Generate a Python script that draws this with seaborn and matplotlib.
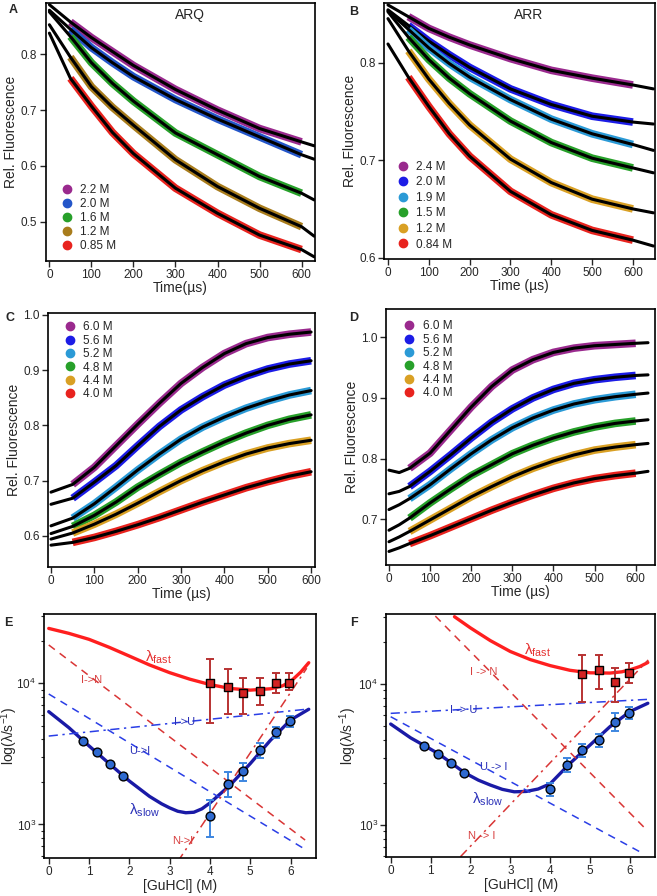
import numpy as np
import matplotlib
matplotlib.use('Agg')
import matplotlib.pyplot as plt
import seaborn as sns
from matplotlib.lines import Line2D
from matplotlib.ticker import LogLocator, NullFormatter, LogFormatterSciNotation

sns.set_style('ticks')
plt.rcParams['font.family'] = ['Liberation Sans', 'DejaVu Sans']
plt.rcParams['mathtext.default'] = 'regular'

# ---------------- panel A: ARQ refolding traces ----------------
t_arq = [0, 50, 100, 150, 200, 300, 400, 500, 600, 630]
arq_labels = ['2.2 M', '2.0 M', '1.6 M', '1.2 M', '0.85 M']
arq_22 = [0.889, 0.858, 0.830, 0.805, 0.780, 0.737, 0.700, 0.667, 0.643, 0.636]
arq_20 = [0.879, 0.845, 0.812, 0.785, 0.760, 0.719, 0.684, 0.652, 0.620, 0.612]
arq_16 = [0.876, 0.832, 0.785, 0.748, 0.716, 0.659, 0.620, 0.581, 0.551, 0.539]
arq_12 = [0.853, 0.795, 0.742, 0.705, 0.673, 0.611, 0.563, 0.524, 0.491, 0.474]
arq_085 = [0.838, 0.757, 0.707, 0.660, 0.622, 0.560, 0.515, 0.476, 0.450, 0.437]

# ---------------- panel B: ARR refolding traces ----------------
t_arr = [0, 50, 100, 150, 200, 300, 400, 500, 600, 650]
arr_labels = ['2.4 M', '2.0 M', '1.9 M', '1.5 M', '1.2 M', '0.84 M']
arr_24 = [0.859, 0.847, 0.835, 0.826, 0.818, 0.804, 0.792, 0.784, 0.777, 0.773]
arr_20 = [0.854, 0.838, 0.822, 0.808, 0.795, 0.773, 0.757, 0.745, 0.739, 0.737]
arr_19 = [0.853, 0.834, 0.815, 0.799, 0.785, 0.762, 0.742, 0.727, 0.716, 0.710]
arr_15 = [0.852, 0.826, 0.803, 0.784, 0.768, 0.740, 0.718, 0.702, 0.692, 0.687]
arr_12 = [0.845, 0.812, 0.783, 0.758, 0.736, 0.701, 0.677, 0.660, 0.650, 0.646]
arr_084 = [0.819, 0.785, 0.755, 0.727, 0.704, 0.668, 0.644, 0.628, 0.618, 0.612]

# ---------------- panel C: ARQ unfolding traces ----------------
t_c = [0, 50, 100, 150, 200, 250, 300, 350, 400, 450, 500, 550, 600]
unf_labels = ['6.0 M', '5.6 M', '5.2 M', '4.8 M', '4.4 M', '4.0 M']
c_60 = [0.679, 0.693, 0.724, 0.763, 0.802, 0.840, 0.876, 0.905, 0.930, 0.948, 0.959, 0.965, 0.969]
c_56 = [0.657, 0.668, 0.697, 0.727, 0.763, 0.798, 0.828, 0.852, 0.873, 0.889, 0.902, 0.911, 0.917]
c_52 = [0.618, 0.632, 0.658, 0.688, 0.719, 0.748, 0.775, 0.797, 0.815, 0.831, 0.844, 0.855, 0.863]
c_48 = [0.604, 0.617, 0.637, 0.661, 0.688, 0.711, 0.733, 0.752, 0.770, 0.786, 0.800, 0.811, 0.819]
c_44 = [0.594, 0.605, 0.621, 0.639, 0.659, 0.680, 0.700, 0.718, 0.734, 0.748, 0.759, 0.767, 0.773]
c_40 = [0.583, 0.588, 0.597, 0.608, 0.620, 0.633, 0.647, 0.661, 0.674, 0.687, 0.698, 0.708, 0.716]

# ---------------- panel D: ARR unfolding traces ----------------
t_d = [0, 25, 50, 100, 150, 200, 250, 300, 350, 400, 450, 500, 550, 600, 630]
d_60 = [0.781, 0.777, 0.784, 0.809, 0.847, 0.885, 0.919, 0.946, 0.963, 0.975, 0.982, 0.986, 0.988, 0.990, 0.991]
d_56 = [0.742, 0.746, 0.754, 0.779, 0.806, 0.834, 0.860, 0.882, 0.900, 0.914, 0.924, 0.930, 0.934, 0.937, 0.938]
d_52 = [0.716, 0.724, 0.734, 0.757, 0.783, 0.808, 0.831, 0.851, 0.867, 0.880, 0.890, 0.897, 0.902, 0.906, 0.908]
d_48 = [0.682, 0.691, 0.702, 0.727, 0.750, 0.772, 0.790, 0.808, 0.822, 0.834, 0.844, 0.852, 0.858, 0.862, 0.864]
d_44 = [0.663, 0.671, 0.680, 0.699, 0.718, 0.737, 0.754, 0.770, 0.784, 0.796, 0.806, 0.814, 0.819, 0.823, 0.825]
d_40 = [0.647, 0.653, 0.660, 0.673, 0.687, 0.701, 0.715, 0.728, 0.740, 0.751, 0.760, 0.767, 0.772, 0.776, 0.779]

# ---------------- panel E: ARQ chevron ----------------
e_fast_x = [4.0, 4.45, 4.83, 5.23, 5.63, 5.97]
e_fast_y = [10000, 9370, 8500, 8870, 10100, 10100]
e_fast_lo = [5200, 6050, 6050, 7050, 8490, 8950]
e_fast_hi = [14800, 12600, 10850, 10850, 11770, 11770]
e_slow_x = [0.85, 1.19, 1.51, 1.85, 4.0, 4.45, 4.83, 5.23, 5.63, 5.98]
e_slow_y = [3920, 3240, 2670, 2210, 1150, 1950, 2390, 3370, 4540, 5410]
e_slow_lo = [3920, 3240, 2670, 2210, 817, 1570, 2040, 2940, 4110, 4920]
e_slow_hi = [3920, 3240, 2670, 2210, 1486, 2360, 2735, 3790, 4920, 5860]
e_fastfit_x = [0, 0.5, 1, 1.5, 2, 2.5, 3, 3.5, 4, 4.5, 5, 5.5, 5.8, 6, 6.25, 6.45]
e_fastfit_y = [24500, 22600, 20500, 18000, 15600, 13500, 11900, 10700, 9800, 9200, 8950, 9150, 9600, 10300, 12000, 14000]
e_slowfit_x = [0, 0.5, 1, 1.5, 2, 2.5, 2.8, 3.0, 3.2, 3.4, 3.6, 3.8, 4, 4.5, 5, 5.5, 6, 6.45]
e_slowfit_y = [6300, 4850, 3600, 2700, 2030, 1580, 1400, 1310, 1240, 1210, 1220, 1290, 1420, 1900, 2700, 3950, 5500, 6550]
e_in_x, e_in_y = [0, 6.36], [18700, 775]
e_ui_x, e_ui_y = [0, 6.36], [8400, 666]
e_iu_x, e_iu_y = [0, 6.45], [4230, 6580]
e_ni_x, e_ni_y = [3.2, 6.4], [545, 12800]

# ---------------- panel F: ARR chevron ----------------
f_fast_x = [4.81, 5.22, 5.63, 5.97]
f_fast_y = [11780, 12570, 10280, 11910]
f_fast_lo = [7490, 9220, 7410, 10210]
f_fast_hi = [16060, 16060, 12920, 14160]
f_slow_x = [0.84, 1.19, 1.51, 1.84, 4.0, 4.43, 4.81, 5.22, 5.62, 5.97]
f_slow_y = [3650, 3200, 2770, 2330, 1800, 2680, 3390, 4010, 5370, 6190]
f_slow_lo = [3650, 3200, 2770, 2330, 1616, 2390, 3050, 3590, 4670, 5620]
f_slow_hi = [3650, 3200, 2770, 2330, 1995, 2970, 3730, 4415, 6190, 6900]
f_fastfit_x = [1.6, 2, 2.5, 3, 3.5, 4, 4.5, 5, 5.5, 5.8, 6, 6.25, 6.45]
f_fastfit_y = [30000, 25000, 20300, 17000, 14900, 13500, 12500, 12000, 11950, 12200, 12600, 13300, 14200]
f_slowfit_x = [0, 0.5, 0.85, 1.2, 1.5, 1.85, 2.2, 2.5, 2.8, 3.1, 3.4, 3.7, 4, 4.5, 5, 5.5, 6, 6.45]
f_slowfit_y = [5200, 4150, 3650, 3200, 2780, 2350, 2080, 1920, 1790, 1720, 1730, 1800, 1960, 2740, 3690, 4980, 6370, 7300]
f_in_x, f_in_y = [1.12, 6.42], [30300, 923]
f_ui_x, f_ui_y = [0, 6.32], [5860, 630]
f_iu_x, f_iu_y = [0, 6.45], [6190, 7780]
f_ni_x, f_ni_y = [1.75, 6.46], [596, 14800]

PURPLE = '#9a2a8e'
RED = '#e8231e'
GREEN = '#27a02a'
CYAN = '#2b9ad6'

W, H = 657, 896
fig = plt.figure(figsize=(W / 100, H / 100), dpi=100)


def px_axes(left, top, right, bottom):
    return fig.add_axes([left / W, 1 - bottom / H, (right - left) / W, (bottom - top) / H])


def style(ax):
    for s in ax.spines.values():
        s.set_linewidth(1.2)
        s.set_color('black')
    ax.tick_params(direction='out', length=4, width=1, labelsize=8.5, pad=2)


def traces(ax, t, series, colors):
    t = np.array(t)
    for vals, c in zip(series, colors):
        v = np.array(vals)
        m = (t >= 50) & (t <= 600)
        sns.lineplot(x=t[m], y=v[m], ax=ax, color=c, lw=5.5, sort=False,
                     estimator=None, solid_capstyle='butt')
        sns.lineplot(x=t, y=v, ax=ax, color='black', lw=2.2, sort=False, estimator=None)


def dot_legend(ax, labels, colors, loc, anchor, spacing):
    handles = [Line2D([], [], ls='', marker='o', ms=6, color=c) for c in colors]
    ax.legend(handles, labels, loc=loc, bbox_to_anchor=anchor, frameon=False,
              fontsize=8.5, handlelength=1.0, handletextpad=0.65,
              labelspacing=spacing, borderpad=0, borderaxespad=0)


# ---- A ----
axA = px_axes(45.7, 3, 315, 261)
colA = [PURPLE, '#2456c9', GREEN, '#a87c1c', RED]
traces(axA, t_arq, [arq_22, arq_20, arq_16, arq_12, arq_085], colA)
axA.set_xlim(-8.8, 632)
axA.set_ylim(0.4295, 0.892)
axA.set_xticks(range(0, 601, 100))
axA.set_yticks([0.5, 0.6, 0.7, 0.8])
axA.set_xlabel('Time(µs)', fontsize=10, labelpad=0)
axA.set_ylabel('Rel. Fluorescence', fontsize=10, labelpad=2)
axA.text(0.536, 0.953, 'ARQ', transform=axA.transAxes, ha='center', va='center', fontsize=10)
dot_legend(axA, arq_labels, colA, 'lower left', (0.056, 0.035), 0.17)
style(axA)

# ---- B ----
axB = px_axes(384.3, 3, 655, 259)
colB = [PURPLE, '#1c1ce6', CYAN, GREEN, '#d9a024', RED]
traces(axB, t_arr, [arr_24, arr_20, arr_19, arr_15, arr_12, arr_084], colB)
axB.set_xlim(-9, 654)
axB.set_ylim(0.5987, 0.861)
axB.set_xticks(range(0, 601, 100))
axB.set_yticks([0.6, 0.7, 0.8])
axB.set_xlabel('Time (µs)', fontsize=10, labelpad=0)
axB.set_ylabel('Rel. Fluorescence', fontsize=10, labelpad=2)
axB.text(0.533, 0.953, 'ARR', transform=axB.transAxes, ha='center', va='center', fontsize=10)
dot_legend(axB, arr_labels, colB, 'lower left', (0.046, 0.033), 0.3)
style(axB)

# ---- C ----
axC = px_axes(48.3, 312.7, 315, 566.7)
colCD = [PURPLE, '#1c1ce6', CYAN, GREEN, '#d9a024', RED]
traces(axC, t_c, [c_60, c_56, c_52, c_48, c_44, c_40], colCD)
axC.set_xlim(-6.2, 609)
axC.set_ylim(0.544, 1.004)
axC.set_xticks(range(0, 601, 100))
axC.set_yticks([0.6, 0.7, 0.8, 0.9, 1.0])
axC.set_xlabel('Time (µs)', fontsize=10, labelpad=0)
axC.set_ylabel('Rel. Fluorescence', fontsize=10, labelpad=2)
dot_legend(axC, unf_labels, colCD, 'upper left', (0.058, 0.966), 0.12)
style(axC)

# ---- D ----
axD = px_axes(386.3, 309.3, 655, 565)
traces(axD, t_d, [d_60, d_56, d_52, d_48, d_44, d_40], colCD)
axD.set_xlim(-6.5, 647)
axD.set_ylim(0.6247, 1.046)
axD.set_xticks(range(0, 601, 100))
axD.set_yticks([0.7, 0.8, 0.9, 1.0])
axD.set_xlabel('Time (µs)', fontsize=10, labelpad=0)
axD.set_ylabel('Rel. Fluorescence', fontsize=10, labelpad=2)
dot_legend(axD, unf_labels, colCD, 'upper left', (0.064, 0.957), 0.12)
style(axD)


# ---- E / F chevrons ----
def chevron(ax, fast, slow, fastfit, slowfit, lines_, texts, ylab_x):
    sns.lineplot(x=fastfit[0], y=fastfit[1], ax=ax, color='#ff1f1f', lw=2.4, sort=False, estimator=None)
    sns.lineplot(x=slowfit[0], y=slowfit[1], ax=ax, color='#1a1aa6', lw=2.4, sort=False, estimator=None)
    (inx, iny), (uix, uiy), (iux, iuy), (nix, niy) = lines_
    sns.lineplot(x=inx, y=iny, ax=ax, color='#d93535', lw=1.1, ls=(0, (5, 4)), sort=False, estimator=None)
    sns.lineplot(x=uix, y=uiy, ax=ax, color='#2a3ee6', lw=1.1, ls=(0, (5, 4)), sort=False, estimator=None)
    sns.lineplot(x=iux, y=iuy, ax=ax, color='#2a3ee6', lw=1.1, ls=(0, (6, 3, 1.5, 3)), sort=False, estimator=None)
    sns.lineplot(x=nix, y=niy, ax=ax, color='#d93535', lw=1.1, ls=(0, (6, 3, 1.5, 3)), sort=False, estimator=None)

    for (x, y, lo, hi), ec, fc, mk in [(fast, '#b83232', '#d42323', 's'),
                                         (slow, '#3d86e0', '#2f6ad0', 'o')]:
        x, y, lo, hi = map(np.array, (x, y, lo, hi))
        m = hi > lo
        ax.errorbar(x[m], y[m], yerr=[y[m] - lo[m], hi[m] - y[m]], fmt='none', ecolor=ec,
                    elinewidth=1.4, capsize=3, capthick=1.4, zorder=4)
        sns.scatterplot(x=x, y=y, ax=ax, marker=mk, color=fc, edgecolor='black',
                        linewidth=1.0, s=40, zorder=5)

    for (tx, ty, s, c, fs) in texts:
        ax.text(tx, ty, s, color=c, fontsize=fs, ha='center', va='center')

    ax.set_yscale('log')
    ax.set_xlim(-0.11, 6.63)
    ax.set_xticks(range(0, 7))
    ax.yaxis.set_major_locator(LogLocator(base=10, numticks=10))
    ax.yaxis.set_major_formatter(LogFormatterSciNotation())
    ax.yaxis.set_minor_locator(LogLocator(base=10, subs=np.arange(2, 10), numticks=20))
    ax.yaxis.set_minor_formatter(NullFormatter())
    ax.tick_params(axis='y', which='minor', direction='out', length=2.5, width=0.8)
    ax.set_xlabel('[GuHCl] (M)', fontsize=10, labelpad=1)
    ax.set_ylabel('log(λ/s$^{-1}$)', fontsize=10)
    ax.yaxis.set_label_coords(ylab_x, 0.5)
    style(ax)


axE = px_axes(44.3, 614, 316, 857.7)
chevron(axE,
        (e_fast_x, e_fast_y, e_fast_lo, e_fast_hi),
        (e_slow_x, e_slow_y, e_slow_lo, e_slow_hi),
        (e_fastfit_x, e_fastfit_y), (e_slowfit_x, e_slowfit_y),
        [(e_in_x, e_in_y), (e_ui_x, e_ui_y), (e_iu_x, e_iu_y), (e_ni_x, e_ni_y)],
        [(2.71, 15200, r'$\lambda_{fast}$', '#e53030', 11),
         (1.07, 10570, 'I->N', '#d84040', 8),
         (3.38, 5350, 'I->U', '#2a30b8', 8),
         (2.26, 3330, 'U->I', '#2a30b8', 8),
         (2.38, 1250, r'$\lambda_{slow}$', '#2a30b8', 11),
         (3.33, 767, 'N->I', '#d84040', 8)],
        -0.088)
axE.set_ylim(581, 31000)

axF = px_axes(386.3, 614.3, 655, 856.7)
chevron(axF,
        (f_fast_x, f_fast_y, f_fast_lo, f_fast_hi),
        (f_slow_x, f_slow_y, f_slow_lo, f_slow_hi),
        (f_fastfit_x, f_fastfit_y), (f_slowfit_x, f_slowfit_y),
        [(f_in_x, f_in_y), (f_ui_x, f_ui_y), (f_iu_x, f_iu_y), (f_ni_x, f_ni_y)],
        [(3.67, 17400, r'$\lambda_{fast}$', '#e53030', 11),
         (2.33, 12200, 'I -> N', '#d84040', 8),
         (1.83, 6550, 'I -> U', '#2a30b8', 8),
         (2.58, 2565, 'U -> I', '#2a30b8', 8),
         (2.42, 1520, r'$\lambda_{slow}$', '#2a30b8', 11),
         (2.29, 836, 'N -> I', '#d84040', 8)],
        -0.1)
axF.set_ylim(596, 31200)

# panel letters
for letter, x, y in [('A', 13, 10), ('B', 354, 12), ('C', 10, 318),
                     ('D', 354, 318), ('E', 8, 623), ('F', 354, 623)]:
    fig.text(x / W, 1 - y / H, letter, fontsize=9, fontweight='bold', ha='center', va='center')

fig.savefig('out.png', dpi=100)
